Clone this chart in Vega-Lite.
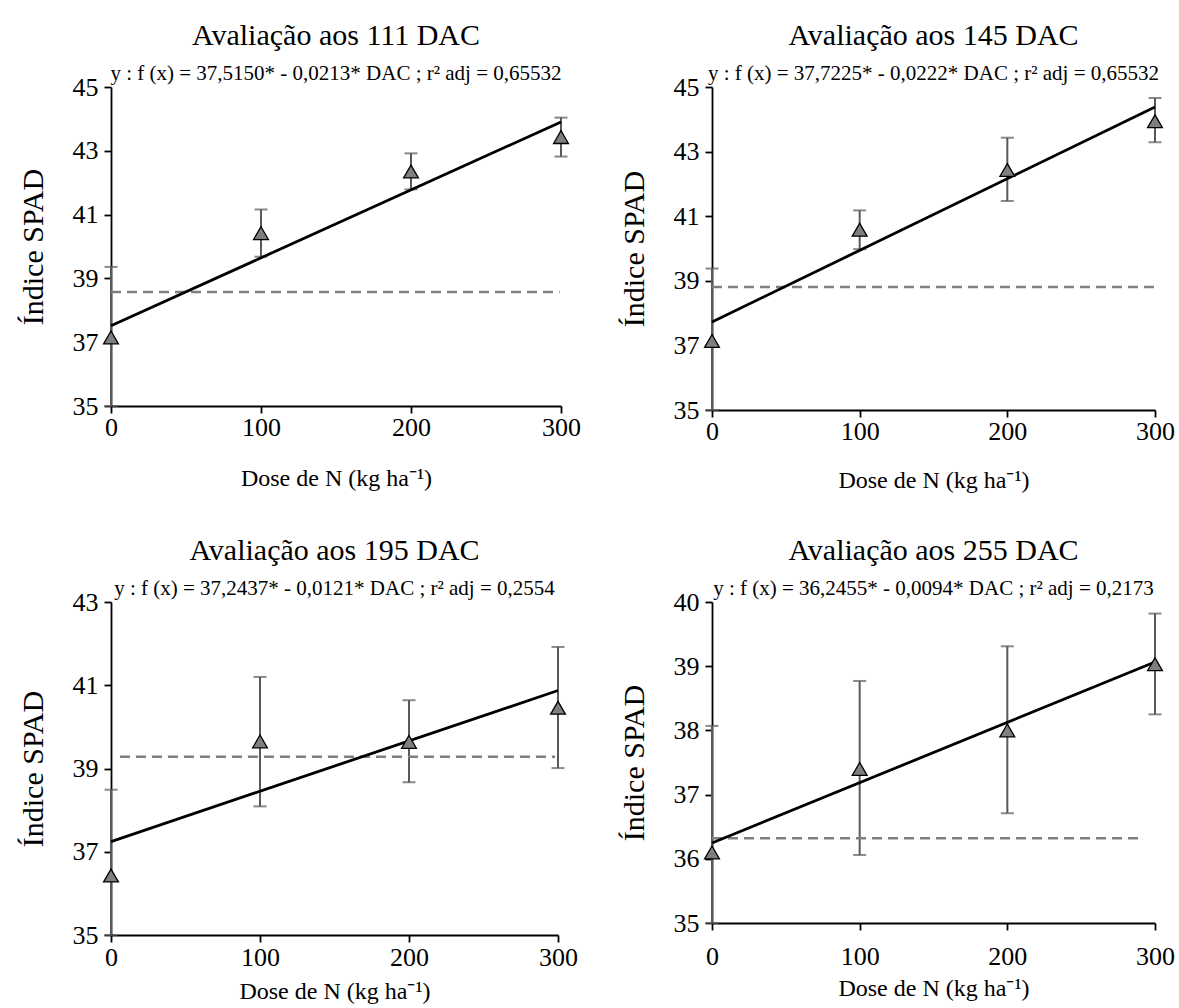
{
  "$schema": "https://vega.github.io/schema/vega-lite/v6.json",
  "background": "white",
  "padding": {"left": 18, "top": 21, "right": 5, "bottom": 2},
  "datasets": {
    "pts": [
      {"p": 1, "dose": 0, "mean": 37.15, "lo": 34.94, "hi": 39.36},
      {"p": 1, "dose": 100, "mean": 40.42, "lo": 39.68, "hi": 41.16},
      {"p": 1, "dose": 200, "mean": 42.35, "lo": 41.79, "hi": 42.92},
      {"p": 1, "dose": 300, "mean": 43.43, "lo": 42.82, "hi": 44.04},
      {"p": 2, "dose": 0, "mean": 37.14, "lo": 34.90, "hi": 39.38},
      {"p": 2, "dose": 100, "mean": 40.58, "lo": 39.98, "hi": 41.18},
      {"p": 2, "dose": 200, "mean": 42.43, "lo": 41.47, "hi": 43.43},
      {"p": 2, "dose": 300, "mean": 43.94, "lo": 43.29, "hi": 44.66},
      {"p": 3, "dose": 0, "mean": 36.43, "lo": 34.37, "hi": 38.49},
      {"p": 3, "dose": 100, "mean": 39.65, "lo": 38.09, "hi": 41.20},
      {"p": 3, "dose": 200, "mean": 39.64, "lo": 38.67, "hi": 40.64},
      {"p": 3, "dose": 300, "mean": 40.46, "lo": 39.01, "hi": 41.92},
      {"p": 4, "dose": 0, "mean": 36.10, "lo": 34.13, "hi": 38.07},
      {"p": 4, "dose": 100, "mean": 37.40, "lo": 36.06, "hi": 38.77},
      {"p": 4, "dose": 200, "mean": 38.00, "lo": 36.71, "hi": 39.31},
      {"p": 4, "dose": 300, "mean": 39.03, "lo": 38.25, "hi": 39.82}
    ],
    "reg": [
      {"p": 1, "dose": 0, "y": 37.515}, {"p": 1, "dose": 300, "y": 43.905},
      {"p": 2, "dose": 0, "y": 37.7225}, {"p": 2, "dose": 300, "y": 44.3825},
      {"p": 3, "dose": 0, "y": 37.2437}, {"p": 3, "dose": 300, "y": 40.8737},
      {"p": 4, "dose": 0, "y": 36.2455}, {"p": 4, "dose": 300, "y": 39.0655}
    ],
    "ctrl": [
      {"p": 1, "dose": 0, "y": 38.57}, {"p": 1, "dose": 299, "y": 38.57},
      {"p": 2, "dose": 0, "y": 38.81}, {"p": 2, "dose": 301, "y": 38.81},
      {"p": 3, "dose": 6, "y": 39.28}, {"p": 3, "dose": 298, "y": 39.28},
      {"p": 4, "dose": 0, "y": 36.32}, {"p": 4, "dose": 291, "y": 36.32}
    ]
  },
  "config": {
    "view": {"stroke": null},
    "font": "Liberation Serif",
    "axis": {
      "grid": false,
      "domainColor": "black",
      "domainWidth": 1.8,
      "tickColor": "black",
      "tickWidth": 1.8,
      "tickSize": 7,
      "labelFont": "Liberation Serif",
      "labelFontSize": 26,
      "labelColor": "black",
      "labelFlush": false,
      "labelOverlap": false,
      "titleFont": "Liberation Serif",
      "titleFontWeight": "normal",
      "titleColor": "black",
      "format": "d"
    },
    "title": {
      "font": "Liberation Serif",
      "fontSize": 30,
      "fontWeight": "normal",
      "color": "black",
      "subtitleFont": "Liberation Serif",
      "subtitleFontSize": 21,
      "subtitleColor": "black",
      "subtitlePadding": 12,
      "offset": -10,
      "anchor": "middle",
      "frame": "group"
    }
  },
  "columns": 2,
  "spacing": {"row": 44, "column": 38},
  "concat": [
    {
      "width": 450, "height": 319,
      "title": {"text": "Avaliação aos 111 DAC", "subtitle": "y : f (x) = 37,5150* - 0,0213* DAC ; r² adj = 0,65532", "font": "Liberation Serif", "subtitleFont": "Liberation Serif"},
      "layer": [
        {"data": {"name": "pts"}, "transform": [{"filter": "datum.p == 1"}],
         "mark": {"type": "errorbar", "ticks": true, "size": 13, "thickness": 2, "color": "#595959"},
         "encoding": {
           "x": {"field": "dose", "type": "quantitative", "scale": {"domain": [0, 300], "nice": false},
                 "axis": {"values": [0, 100, 200, 300], "title": "Dose de N (kg ha⁻¹)", "titleFontSize": 24, "titlePadding": 26, "labelPadding": 1}},
           "y": {"field": "lo", "type": "quantitative", "scale": {"domain": [35, 45], "nice": false, "clamp": true},
                 "axis": {"values": [35, 37, 39, 41, 43, 45], "title": "Índice SPAD", "titleFontSize": 30, "titlePadding": 24, "labelPadding": 6}},
           "y2": {"field": "hi"}
         }},
        {"data": {"name": "ctrl"}, "transform": [{"filter": "datum.p == 1"}],
         "mark": {"type": "line", "strokeDash": [10, 6], "color": "#7f7f7f", "strokeWidth": 2.5},
         "encoding": {"x": {"field": "dose", "type": "quantitative"}, "y": {"field": "y", "type": "quantitative"}}},
        {"data": {"name": "reg"}, "transform": [{"filter": "datum.p == 1"}],
         "mark": {"type": "line", "color": "black", "strokeWidth": 2.8},
         "encoding": {"x": {"field": "dose", "type": "quantitative"}, "y": {"field": "y", "type": "quantitative"}}},
        {"data": {"name": "pts"}, "transform": [{"filter": "datum.p == 1"}],
         "mark": {"type": "point", "shape": "triangle-up", "filled": true, "fill": "#7f7f7f", "stroke": "black", "strokeWidth": 1.3, "size": 220, "opacity": 1},
         "encoding": {"x": {"field": "dose", "type": "quantitative"}, "y": {"field": "mean", "type": "quantitative"}}}
      ]
    },
    {
      "width": 443, "height": 323,
      "title": {"text": "Avaliação aos 145 DAC", "subtitle": "y : f (x) = 37,7225* - 0,0222* DAC ; r² adj = 0,65532", "font": "Liberation Serif", "subtitleFont": "Liberation Serif"},
      "layer": [
        {"data": {"name": "pts"}, "transform": [{"filter": "datum.p == 2"}],
         "mark": {"type": "errorbar", "ticks": true, "size": 13, "thickness": 2, "color": "#595959"},
         "encoding": {
           "x": {"field": "dose", "type": "quantitative", "scale": {"domain": [0, 300], "nice": false},
                 "axis": {"values": [0, 100, 200, 300], "title": "Dose de N (kg ha⁻¹)", "titleFontSize": 24, "titlePadding": 24, "labelPadding": 1}},
           "y": {"field": "lo", "type": "quantitative", "scale": {"domain": [35, 45], "nice": false, "clamp": true},
                 "axis": {"values": [35, 37, 39, 41, 43, 45], "title": "Índice SPAD", "titleFontSize": 30, "titlePadding": 24, "labelPadding": 6}},
           "y2": {"field": "hi"}
         }},
        {"data": {"name": "ctrl"}, "transform": [{"filter": "datum.p == 2"}],
         "mark": {"type": "line", "strokeDash": [10, 6], "color": "#7f7f7f", "strokeWidth": 2.5},
         "encoding": {"x": {"field": "dose", "type": "quantitative"}, "y": {"field": "y", "type": "quantitative"}}},
        {"data": {"name": "reg"}, "transform": [{"filter": "datum.p == 2"}],
         "mark": {"type": "line", "color": "black", "strokeWidth": 2.8},
         "encoding": {"x": {"field": "dose", "type": "quantitative"}, "y": {"field": "y", "type": "quantitative"}}},
        {"data": {"name": "pts"}, "transform": [{"filter": "datum.p == 2"}],
         "mark": {"type": "point", "shape": "triangle-up", "filled": true, "fill": "#7f7f7f", "stroke": "black", "strokeWidth": 1.3, "size": 220, "opacity": 1},
         "encoding": {"x": {"field": "dose", "type": "quantitative"}, "y": {"field": "mean", "type": "quantitative"}}}
      ]
    },
    {
      "width": 447, "height": 333,
      "title": {"text": "Avaliação aos 195 DAC", "subtitle": "y : f (x) = 37,2437* - 0,0121* DAC ; r² adj = 0,2554", "font": "Liberation Serif", "subtitleFont": "Liberation Serif"},
      "layer": [
        {"data": {"name": "pts"}, "transform": [{"filter": "datum.p == 3"}],
         "mark": {"type": "errorbar", "ticks": true, "size": 13, "thickness": 2, "color": "#595959"},
         "encoding": {
           "x": {"field": "dose", "type": "quantitative", "scale": {"domain": [0, 300], "nice": false},
                 "axis": {"values": [0, 100, 200, 300], "title": "Dose de N (kg ha⁻¹)", "titleFontSize": 24, "titlePadding": 9, "labelPadding": 2}},
           "y": {"field": "lo", "type": "quantitative", "scale": {"domain": [35, 43], "nice": false, "clamp": true},
                 "axis": {"values": [35, 37, 39, 41, 43], "title": "Índice SPAD", "titleFontSize": 30, "titlePadding": 24, "labelPadding": 6}},
           "y2": {"field": "hi"}
         }},
        {"data": {"name": "ctrl"}, "transform": [{"filter": "datum.p == 3"}],
         "mark": {"type": "line", "strokeDash": [10, 6], "color": "#7f7f7f", "strokeWidth": 2.5},
         "encoding": {"x": {"field": "dose", "type": "quantitative"}, "y": {"field": "y", "type": "quantitative"}}},
        {"data": {"name": "reg"}, "transform": [{"filter": "datum.p == 3"}],
         "mark": {"type": "line", "color": "black", "strokeWidth": 2.8},
         "encoding": {"x": {"field": "dose", "type": "quantitative"}, "y": {"field": "y", "type": "quantitative"}}},
        {"data": {"name": "pts"}, "transform": [{"filter": "datum.p == 3"}],
         "mark": {"type": "point", "shape": "triangle-up", "filled": true, "fill": "#7f7f7f", "stroke": "black", "strokeWidth": 1.3, "size": 220, "opacity": 1},
         "encoding": {"x": {"field": "dose", "type": "quantitative"}, "y": {"field": "mean", "type": "quantitative"}}}
      ]
    },
    {
      "width": 443, "height": 321,
      "title": {"text": "Avaliação aos 255 DAC", "subtitle": "y : f (x) = 36,2455* - 0,0094* DAC ; r² adj = 0,2173", "font": "Liberation Serif", "subtitleFont": "Liberation Serif"},
      "layer": [
        {"data": {"name": "pts"}, "transform": [{"filter": "datum.p == 4"}],
         "mark": {"type": "errorbar", "ticks": true, "size": 13, "thickness": 2, "color": "#595959"},
         "encoding": {
           "x": {"field": "dose", "type": "quantitative", "scale": {"domain": [0, 300], "nice": false},
                 "axis": {"values": [0, 100, 200, 300], "title": "Dose de N (kg ha⁻¹)", "titleFontSize": 24, "titlePadding": 7, "labelPadding": 13}},
           "y": {"field": "lo", "type": "quantitative", "scale": {"domain": [35, 40], "nice": false, "clamp": true},
                 "axis": {"values": [35, 36, 37, 38, 39, 40], "title": "Índice SPAD", "titleFontSize": 30, "titlePadding": 24, "labelPadding": 6}},
           "y2": {"field": "hi"}
         }},
        {"data": {"name": "ctrl"}, "transform": [{"filter": "datum.p == 4"}],
         "mark": {"type": "line", "strokeDash": [10, 6], "color": "#7f7f7f", "strokeWidth": 2.5},
         "encoding": {"x": {"field": "dose", "type": "quantitative"}, "y": {"field": "y", "type": "quantitative"}}},
        {"data": {"name": "reg"}, "transform": [{"filter": "datum.p == 4"}],
         "mark": {"type": "line", "color": "black", "strokeWidth": 2.8},
         "encoding": {"x": {"field": "dose", "type": "quantitative"}, "y": {"field": "y", "type": "quantitative"}}},
        {"data": {"name": "pts"}, "transform": [{"filter": "datum.p == 4"}],
         "mark": {"type": "point", "shape": "triangle-up", "filled": true, "fill": "#7f7f7f", "stroke": "black", "strokeWidth": 1.3, "size": 220, "opacity": 1},
         "encoding": {"x": {"field": "dose", "type": "quantitative"}, "y": {"field": "mean", "type": "quantitative"}}}
      ]
    }
  ]
}
